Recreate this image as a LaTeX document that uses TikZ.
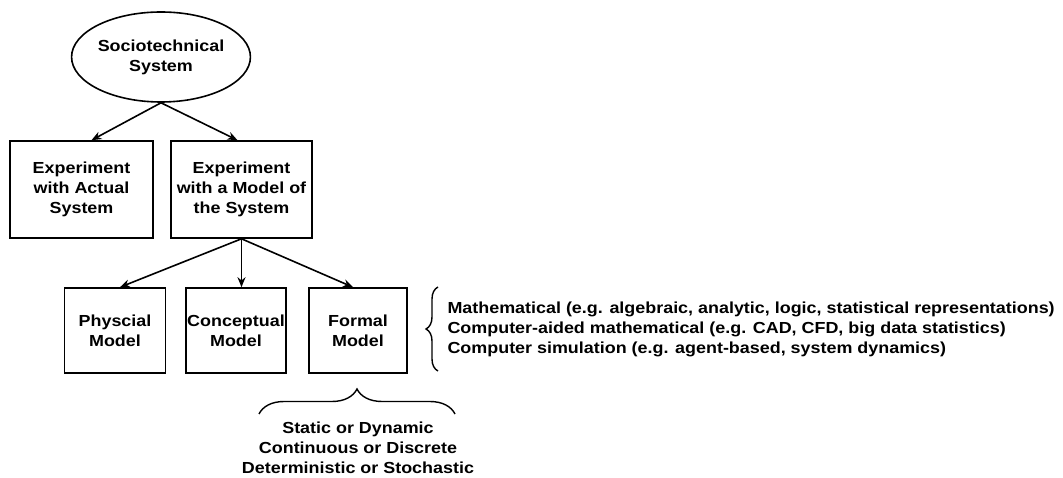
\documentclass[tikz,border=0pt]{standalone}
\usepackage{fontspec}
\setmainfont{Liberation Sans}[FakeStretch=1.12]
\usetikzlibrary{arrows.meta,decorations.pathreplacing,shapes.geometric}
\begin{document}
\begin{tikzpicture}[x=1pt,y=-1pt,
  every node/.style={font=\fontsize{16}{20}\selectfont\bfseries},
  box/.style={draw,line width=1.6pt,align=center,inner sep=0pt,minimum height=97pt},
  modelbox/.style={box,minimum height=85pt},
  conn/.style={line width=1.6pt,-{Stealth[length=10pt,width=8pt]}},
  bracestyle/.style={line width=1.4pt,decorate}]
\useasboundingbox (0,0) rectangle (1063,478);

% top level
\node[ellipse,draw,line width=1.6pt,minimum width=172pt,minimum height=90pt,inner sep=0pt,align=center]
  (sys) at (161,57) {Sociotechnical\\System};

% experiment boxes
\node[box,minimum width=143pt] (actual) at (81.5,189.5) {Experiment\\with Actual\\System};
\node[box,minimum width=141pt] (withmodel) at (241.5,189.5) {Experiment\\with a Model of\\the System};

% model boxes
\node[modelbox,minimum width=101pt] (phys) at (115,330.5) {Physcial\\Model};
\node[modelbox,minimum width=100pt] (concept) at (236,330.5) {Conceptual\\Model};
\node[modelbox,minimum width=98pt] (formal) at (358,330.5) {Formal\\Model};

% connectors
\draw[conn] (sys.south) -- ([xshift=10pt]actual.north);
\draw[conn] (sys.south) -- ([xshift=-4pt]withmodel.north);
\draw[conn] (withmodel.south) -- ([xshift=5pt]phys.north);
\draw[conn] (withmodel.south) -- (withmodel.south |- concept.north);
\draw[conn] (withmodel.south) -- ([xshift=-5pt]formal.north);

% kinds of formal model
\coordinate (rb1) at (438,371);
\coordinate (rb2) at (438,287);
\draw[bracestyle,decoration={brace,amplitude=12pt}] (rb1) -- (rb2);
\node[anchor=west,align=left] (kinds) at (444,329)
  {Mathematical (e.g. algebraic, analytic, logic, statistical representations)\\
   Computer-aided mathematical (e.g. CAD, CFD, big data statistics)\\
   Computer simulation (e.g. agent-based, system dynamics)};

% properties of formal model
\coordinate (bb1) at (259,414);
\coordinate (bb2) at (455,414);
\draw[bracestyle,decoration={brace,amplitude=25pt}] (bb1) -- (bb2);
\node[align=center] (props) at (358,448)
  {Static or Dynamic\\Continuous or Discrete\\Deterministic or Stochastic};
\end{tikzpicture}
\end{document}
